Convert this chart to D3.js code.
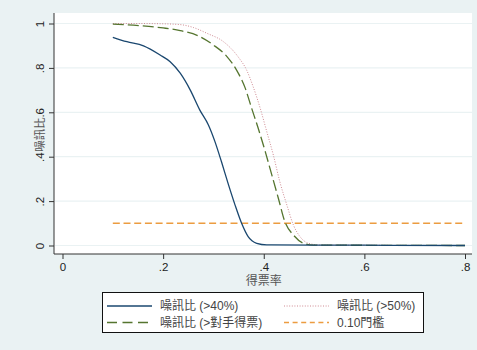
<!DOCTYPE html>
<html>
<head>
<meta charset="utf-8">
<script src="https://cdn.jsdelivr.net/npm/d3@7"></script>
<style>
  html, body { margin: 0; padding: 0; background: #eaf2f3; }
  svg { display: block; }
  text { font-family: "Liberation Sans", Arial, "Noto Sans CJK TC", sans-serif; }
</style>
</head>
<body>
<svg id="chart" width="477" height="350"></svg>
<script>
// Noise-to-signal ratio by vote share, four scenarios
const xTicks = [0, 0.2, 0.4, 0.6, 0.8];
const xTickLabels = ["0", ".2", ".4", ".6", ".8"];
const yTicks = [0, 0.2, 0.4, 0.6, 0.8, 1];
const yTickLabels = ["0", ".2", ".4", ".6", ".8", "1"];

// >40% scenario
const s40X = [0.10, 0.128, 0.161, 0.194, 0.214, 0.234, 0.254, 0.273, 0.290, 0.303, 0.316, 0.330, 0.343, 0.356, 0.369, 0.386, 0.406, 0.50, 0.65, 0.80];
const s40Y = [0.938, 0.918, 0.899, 0.858, 0.828, 0.776, 0.700, 0.610, 0.543, 0.468, 0.377, 0.273, 0.182, 0.100, 0.040, 0.010, 0.003, 0.002, 0.001, 0.000];

// >50% scenario
const s50X = [0.10, 0.15, 0.194, 0.234, 0.260, 0.287, 0.320, 0.349, 0.366, 0.379, 0.393, 0.406, 0.419, 0.432, 0.446, 0.459, 0.472, 0.489, 0.512, 0.60, 0.80];
const s50Y = [1.000, 1.000, 0.999, 0.995, 0.982, 0.956, 0.918, 0.850, 0.790, 0.715, 0.618, 0.513, 0.408, 0.287, 0.182, 0.092, 0.040, 0.010, 0.002, 0.001, 0.000];

// > opponent's vote scenario
const sOppX = [0.10, 0.154, 0.200, 0.234, 0.273, 0.300, 0.326, 0.346, 0.363, 0.376, 0.389, 0.403, 0.416, 0.429, 0.442, 0.459, 0.479, 0.499, 0.60, 0.80];
const sOppY = [0.997, 0.990, 0.980, 0.968, 0.941, 0.903, 0.853, 0.790, 0.710, 0.618, 0.528, 0.423, 0.318, 0.213, 0.107, 0.047, 0.010, 0.002, 0.001, 0.000];

// 0.10 threshold
const thrX = [0.10, 0.80];
const thrY = [0.10, 0.10];

const seriesNames = ["噪訊比 (>40%)", "噪訊比 (>50%)", "噪訊比 (>對手得票)", "0.10門檻"];

const svg = d3.select("#chart");
const W = 477, H = 350;

// plot region
const plot = { left: 54, right: 472, top: 13, bottom: 254 };
const x = d3.scaleLinear().domain([0, 0.8]).range([62.5, 465]);
const y = d3.scaleLinear().domain([0, 1]).range([245.5, 23.5]);

svg.append("rect").attr("x", 0).attr("y", 0).attr("width", W).attr("height", H).attr("fill", "#eaf2f3");
svg.append("rect")
  .attr("x", plot.left).attr("y", plot.top)
  .attr("width", plot.right - plot.left).attr("height", plot.bottom - plot.top)
  .attr("fill", "#ffffff");

// horizontal gridlines
svg.append("g").selectAll("line").data(yTicks).join("line")
  .attr("x1", plot.left + 1).attr("x2", plot.right)
  .attr("y1", d => y(d)).attr("y2", d => y(d))
  .attr("stroke", "#eaf2f3").attr("stroke-width", 1.2);

// series
const series = [
  { xs: s40X, ys: s40Y, color: "#1a476f", width: 1.3, dash: null },
  { xs: s50X, ys: s50Y, color: "#cf8a92", width: 1, dash: "1,1.6" },
  { xs: sOppX, ys: sOppY, color: "#55752f", width: 1.3, dash: "11,4" },
  { xs: thrX, ys: thrY, color: "#ec9c40", width: 1.5, dash: "7,3.7" }
];

const line = d3.line().x(d => x(d[0])).y(d => y(d[1])).curve(d3.curveMonotoneX);

// threshold underneath, then the three ratio curves
[3, 1, 2, 0].forEach(i => {
  const s = series[i];
  const pts = s.xs.map((v, j) => [v, s.ys[j]]);
  svg.append("path").datum(pts)
    .attr("d", line)
    .attr("fill", "none")
    .attr("stroke", s.color)
    .attr("stroke-width", s.width)
    .attr("stroke-dasharray", s.dash);
});

// axes
const axisColor = "#333333";
const xAxis = d3.axisBottom(x).tickValues(xTicks).tickFormat((d, i) => xTickLabels[i]).tickSize(5).tickPadding(4);
const gx = svg.append("g").attr("transform", `translate(0,${plot.bottom})`).call(xAxis);
gx.select(".domain").remove();
gx.selectAll("line").attr("stroke", axisColor);
gx.selectAll("text").attr("font-size", 11.5).attr("fill", "#222");
svg.append("line").attr("x1", plot.left).attr("x2", plot.right)
  .attr("y1", plot.bottom).attr("y2", plot.bottom).attr("stroke", axisColor).attr("stroke-width", 1);

const yAxis = d3.axisLeft(y).tickValues(yTicks).tickFormat((d, i) => yTickLabels[i]).tickSize(5).tickPadding(4);
const gy = svg.append("g").attr("transform", `translate(${plot.left},0)`).call(yAxis);
gy.select(".domain").remove();
gy.selectAll("line").attr("stroke", axisColor);
gy.selectAll("text")
  .attr("font-size", 11.5).attr("fill", "#222")
  .attr("text-anchor", "middle")
  .attr("x", 0).attr("dy", null)
  .attr("transform", "translate(-14,0) rotate(-90)")
  .attr("dominant-baseline", "central");
svg.append("line").attr("x1", plot.left).attr("x2", plot.left)
  .attr("y1", plot.top).attr("y2", plot.bottom).attr("stroke", axisColor).attr("stroke-width", 1);

// axis titles
svg.append("text")
  .attr("x", x(0.4)).attr("y", 281)
  .attr("text-anchor", "middle").attr("dominant-baseline", "central")
  .attr("font-size", 12).attr("fill", "#555")
  .text("得票率");
svg.append("text")
  .attr("transform", `translate(40,${(y(0) + y(1)) / 2}) rotate(-90)`)
  .attr("text-anchor", "middle").attr("dominant-baseline", "central")
  .attr("font-size", 11.5).attr("fill", "#555")
  .text("噪訊比");

// legend
const lg = svg.append("g");
lg.append("rect").attr("x", 102.5).attr("y", 292.5).attr("width", 321).attr("height", 40)
  .attr("fill", "#ffffff").attr("stroke", "#111").attr("stroke-width", 1);
const legendItems = [
  { s: 0, lx: 107, ty: 306, legendDash: null },
  { s: 1, lx: 284, ty: 306, legendDash: "1,1.6" },
  { s: 2, lx: 107, ty: 322.5, legendDash: "10,5.5" },
  { s: 3, lx: 284, ty: 322.5, legendDash: "5,3.6" }
];
legendItems.forEach(it => {
  const s = series[it.s];
  lg.append("line")
    .attr("x1", it.lx).attr("x2", it.lx + 45)
    .attr("y1", it.ty).attr("y2", it.ty)
    .attr("stroke", s.color).attr("stroke-width", s.width)
    .attr("stroke-dasharray", it.legendDash);
  lg.append("text")
    .attr("x", it.lx + 53).attr("y", it.ty)
    .attr("dominant-baseline", "central")
    .attr("font-size", 12).attr("fill", "#444")
    .text(seriesNames[it.s]);
});
</script>
</body>
</html>
